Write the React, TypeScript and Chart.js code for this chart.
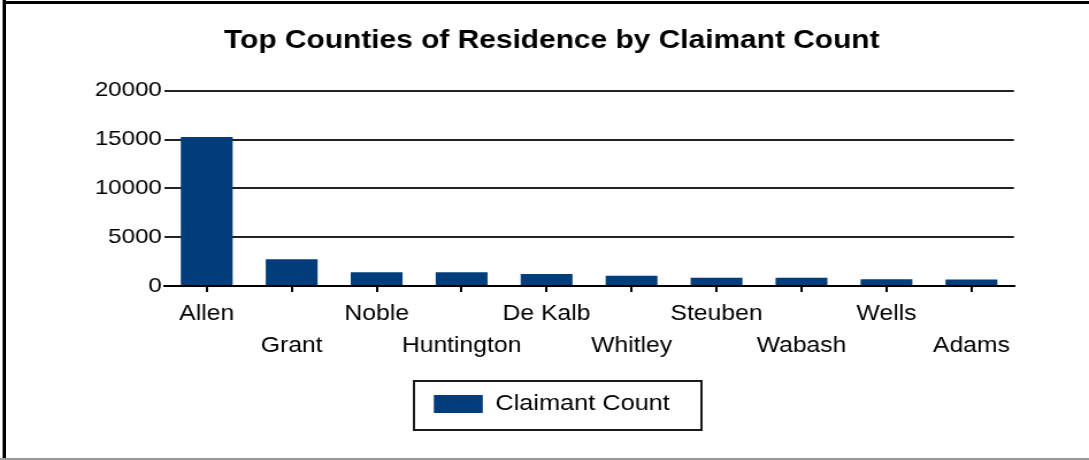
import React, { useEffect, useRef } from "react";
import { Chart, registerables } from "chart.js";

Chart.register(...registerables);

const categories = ["Allen", "Grant", "Noble", "Huntington", "De Kalb", "Whitley", "Steuben", "Wabash", "Wells", "Adams"];
const claimantCounts = [15250, 2740, 1400, 1400, 1220, 1050, 850, 850, 680, 670];
const seriesLabel = "Claimant Count";
const chartTitle = "Top Counties of Residence by Claimant Count";
const yMin = 0;
const yMax = 20000;
const yStep = 5000;

const FONT = "'Liberation Sans', Arial, Helvetica, sans-serif";
const CSS_W = 1089;
const CSS_H = 460;
const INT_W = 947; // internal canvas width, stretched horizontally to CSS_W

const legendBoxPlugin = {
  id: "legendBox",
  afterDraw(chart: any) {
    const legend = chart.legend;
    if (!legend) return;
    const ctx = chart.ctx;
    const opts = legend.options.labels;
    const fontSize = 22;
    ctx.save();
    ctx.font = `${fontSize}px ${FONT}`;
    const tw = ctx.measureText(seriesLabel).width;
    const itemW = opts.boxWidth + fontSize / 2 + tw;
    const cx = (legend.left + legend.right) / 2;
    const itemLeft = cx - itemW / 2;
    const left = itemLeft - 17.4;
    const right = itemLeft + itemW + 27;
    const top = legend.top - 2;
    const bottom = legend.top + 47;
    ctx.strokeStyle = "#1a1a1a";
    ctx.lineWidth = 2;
    ctx.strokeRect(Math.round(left), Math.round(top), Math.round(right - left), Math.round(bottom - top));
    ctx.restore();
  },
};

export default function App() {
  const ref = useRef<HTMLCanvasElement | null>(null);

  useEffect(() => {
    if (!ref.current) return;
    const chart = new Chart(ref.current, {
      type: "bar",
      data: {
        labels: categories,
        datasets: [
          {
            label: seriesLabel,
            data: claimantCounts,
            backgroundColor: "#003D7A",
            borderWidth: 0,
            barPercentage: 0.61,
            categoryPercentage: 1,
          },
        ],
      },
      options: {
        responsive: false,
        animation: false,
        devicePixelRatio: 1,
        layout: { padding: { left: 78, right: 65.3, top: 0, bottom: 35 } },
        plugins: {
          title: {
            display: true,
            text: chartTitle,
            color: "#000",
            font: { family: FONT, size: 26, weight: "bold", lineHeight: 1.2 },
            padding: { top: 25.5, bottom: 34 },
          },
          legend: {
            display: true,
            position: "bottom",
            labels: {
              color: "#000",
              font: { family: FONT, size: 22 },
              boxWidth: 42.6,
              boxHeight: 18,
              padding: 10,
            },
          },
          tooltip: { enabled: false },
        },
        scales: {
          x: {
            offset: true,
            grid: {
              display: true,
              drawOnChartArea: false,
              drawTicks: true,
              tickLength: 6,
              offset: false,
              color: "#000",
              lineWidth: 2,
            },
            border: { display: true, color: "#000", width: 2 },
            ticks: {
              autoSkip: false,
              maxRotation: 0,
              minRotation: 0,
              padding: 6,
              color: "#000",
              font: { family: FONT, size: 21.5, lineHeight: "32px" },
              callback: (_v: any, i: number) => (i % 2 === 1 ? ["", categories[i]] : categories[i]),
            },
            afterFit: (scale: any) => {
              scale.height = 97;
            },
          },
          y: {
            min: yMin,
            max: yMax,
            grid: {
              color: "#222",
              lineWidth: 2,
              drawTicks: false,
            },
            border: { display: false },
            ticks: {
              stepSize: yStep,
              padding: 2,
              color: "#000",
              font: { family: FONT, size: 21 },
              callback: (v: any) => String(v),
            },
            afterFit: (scale: any) => {
              scale.width = 64.8;
            },
          },
        },
      },
      plugins: [legendBoxPlugin],
    } as any);
    return () => chart.destroy();
  }, []);

  return (
    <div style={{ position: "absolute", left: 0, top: 0, width: CSS_W, height: CSS_H, background: "#fff", overflow: "hidden" }}>
      <canvas
        ref={ref}
        width={INT_W}
        height={CSS_H}
        style={{ position: "absolute", left: 0, top: 0, width: CSS_W + "px", height: CSS_H + "px", display: "block" }}
      />
      <div style={{ position: "absolute", left: 2, top: 0, width: 1, height: 459, background: "#999" }} />
      <div style={{ position: "absolute", left: 3, top: 0, width: 3, height: 459, background: "#000" }} />
      <div style={{ position: "absolute", left: 3, top: 1, width: CSS_W - 3, height: 3, background: "#000" }} />
      <div style={{ position: "absolute", left: 0, top: 458, width: CSS_W, height: 2, background: "#9a9a9a" }} />
    </div>
  );
}
